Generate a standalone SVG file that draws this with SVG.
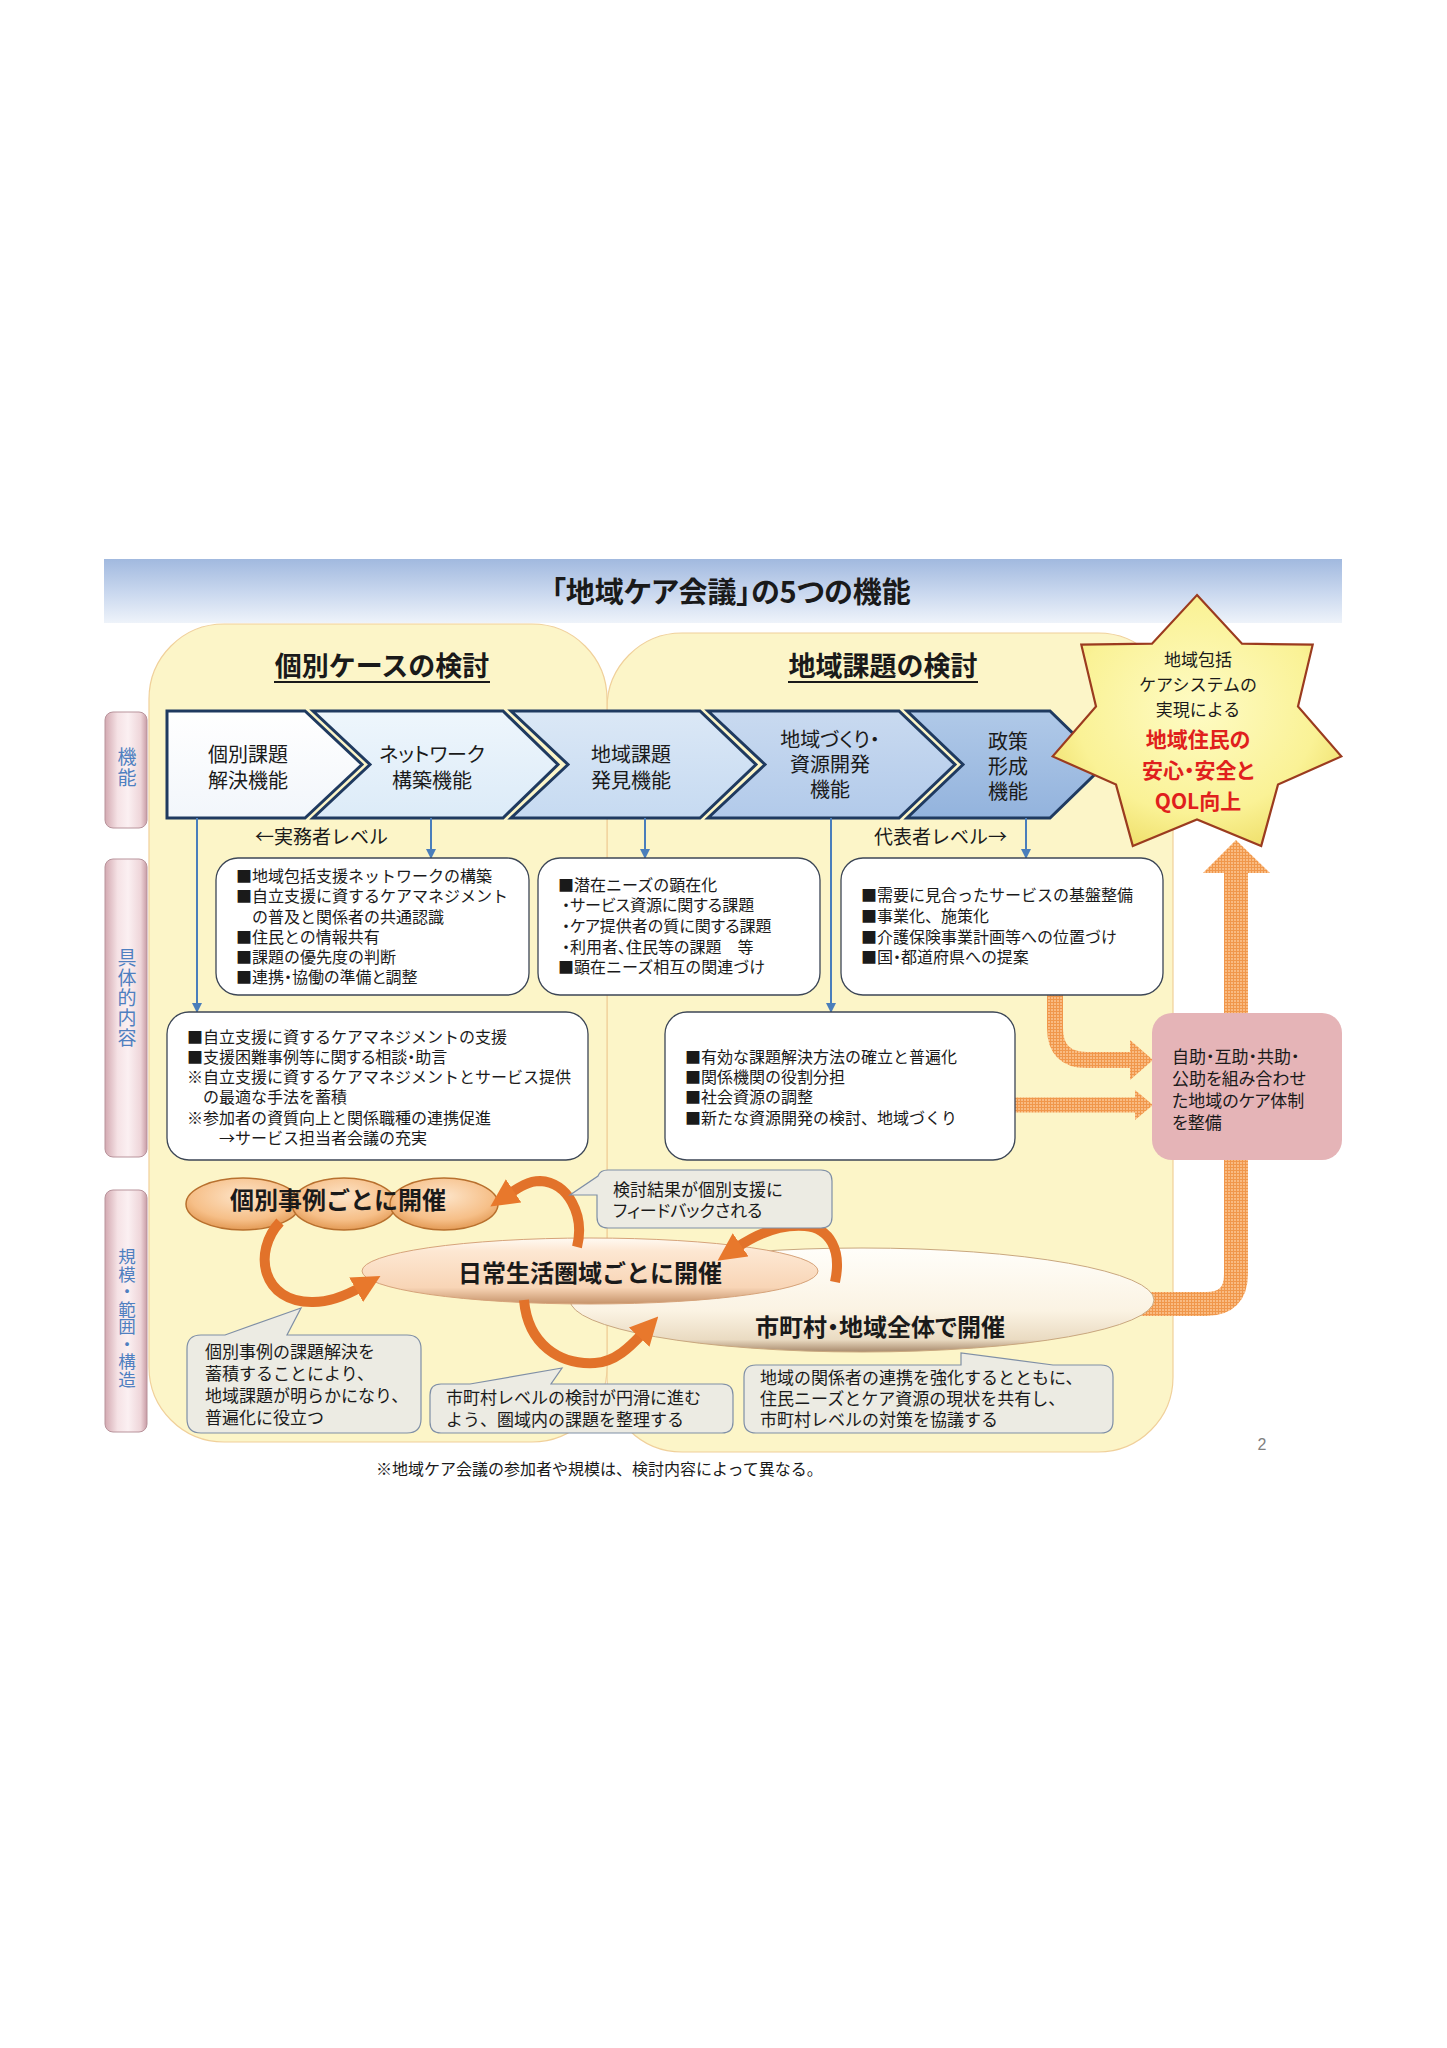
<svg xmlns="http://www.w3.org/2000/svg" width="1447" height="2048" viewBox="0 0 1447 2048">
<defs>
<style>
text{font-family:"Noto Sans CJK JP","Noto Sans CJK SC",sans-serif;fill:#1a1a1a}
.p{font-feature-settings:"palt"}
.t16{font-size:16px}
.t17{font-size:17px}
.t19{font-size:19px}
.t20{font-size:20px}
.b{font-weight:bold}
.c{text-anchor:middle}
.vt{fill:#4f7fc0;text-anchor:middle;writing-mode:vertical-rl;text-orientation:upright}
.sk{font-size:17px;text-anchor:middle}
.sr{font-size:21px;font-weight:bold;text-anchor:middle;fill:#e0201c;font-feature-settings:"palt"}
.box{fill:#ffffff;stroke:#3c4656;stroke-width:1.3}
.chev{stroke:#1f3a60;stroke-width:3;stroke-linejoin:miter}
.blue{stroke:#4a7ebb;stroke-width:2;fill:none}
.oarr{fill:none;stroke:#e2722a;stroke-width:10}
.call{fill:#ecebe3;stroke:#7f8fa6;stroke-width:1.2}
.panel{fill:#fcf5c8;stroke:#f0d09a;stroke-width:1.2}
</style>
<linearGradient id="gTitle" x1="0" y1="0" x2="0" y2="1">
<stop offset="0" stop-color="#a1b9df"/><stop offset="0.55" stop-color="#cbd9ef"/><stop offset="1" stop-color="#eef3fa"/>
</linearGradient>
<linearGradient id="gTab" x1="0" y1="0" x2="1" y2="0">
<stop offset="0" stop-color="#d3a9b1"/><stop offset="0.3" stop-color="#f5e2e5"/><stop offset="0.55" stop-color="#fbf0f2"/><stop offset="0.85" stop-color="#eed5d9"/><stop offset="1" stop-color="#c89ca5"/>
</linearGradient>
<linearGradient id="gC1" x1="0" y1="0" x2="0" y2="1"><stop offset="0" stop-color="#ffffff"/><stop offset="1" stop-color="#f2f6fb"/></linearGradient>
<linearGradient id="gC2" x1="0" y1="0" x2="0" y2="1"><stop offset="0" stop-color="#eef6fc"/><stop offset="1" stop-color="#dcebf8"/></linearGradient>
<linearGradient id="gC3" x1="0" y1="0" x2="0" y2="1"><stop offset="0" stop-color="#dbe8f6"/><stop offset="1" stop-color="#c6daf1"/></linearGradient>
<linearGradient id="gC4" x1="0" y1="0" x2="0" y2="1"><stop offset="0" stop-color="#c9daf0"/><stop offset="1" stop-color="#b2caea"/></linearGradient>
<linearGradient id="gC5" x1="0" y1="0" x2="0" y2="1"><stop offset="0" stop-color="#b0c9e8"/><stop offset="1" stop-color="#93b3dd"/></linearGradient>
<radialGradient id="gStar" cx="0.5" cy="0.45" r="0.6">
<stop offset="0" stop-color="#fefbc4"/><stop offset="0.7" stop-color="#faf296"/><stop offset="1" stop-color="#efdf6a"/>
</radialGradient>
<radialGradient id="gOr" cx="0.5" cy="0.35" r="0.65">
<stop offset="0" stop-color="#fde4c8"/><stop offset="0.7" stop-color="#f6bf88"/><stop offset="1" stop-color="#e39a55"/>
</radialGradient>
<linearGradient id="gNichi" x1="0" y1="0" x2="0" y2="1">
<stop offset="0" stop-color="#fffaf3"/><stop offset="0.2" stop-color="#fde7d2"/><stop offset="0.75" stop-color="#f8d5b6"/><stop offset="1" stop-color="#c6936a"/>
</linearGradient>
<linearGradient id="gShi" x1="0" y1="0" x2="0" y2="1">
<stop offset="0" stop-color="#fffefa"/><stop offset="0.6" stop-color="#fbf3e3"/><stop offset="0.88" stop-color="#eadbc2"/><stop offset="1" stop-color="#a88a6c"/>
</linearGradient>
<pattern id="hatch" width="3" height="3" patternUnits="userSpaceOnUse">
<rect width="3" height="3" fill="#f9bb82"/><path d="M0 0.5H3M0.5 0V3" stroke="#f0974b" stroke-width="1"/>
</pattern>
<marker id="ob" viewBox="0 0 20 20" refX="4" refY="10" markerWidth="28" markerHeight="28" markerUnits="userSpaceOnUse" orient="auto">
<path d="M0,0 L20,10 L0,20 Z" fill="#e8782c"/>
</marker>
<marker id="bb" viewBox="0 0 10 10" refX="9" refY="5" markerWidth="10" markerHeight="10" markerUnits="userSpaceOnUse" orient="auto">
<path d="M0,0 L10,5 L0,10 Z" fill="#4a7ebb"/>
</marker>
</defs>

<rect width="1447" height="2048" fill="#ffffff"/>

<!-- Title bar -->
<g id="title">
<rect x="104" y="559" width="1238" height="64" fill="url(#gTitle)"/>
<text x="731" y="603" class="c b p" style="font-size:29px">「地域ケア会議」の5つの機能</text>
</g>

<!-- Panels -->
<g id="panel-right">
<rect x="607" y="633" width="566" height="819" rx="75" class="panel"/>
<text x="883" y="676" class="c b" style="font-size:27px">地域課題の検討</text>
<line x1="788" y1="682" x2="978" y2="682" stroke="#1a1a1a" stroke-width="2"/>
</g>
<g id="panel-left">
<rect x="149" y="624" width="458" height="818" rx="75" class="panel"/>
<text x="382" y="676" class="c b" style="font-size:27px">個別ケースの検討</text>
<line x1="274" y1="682" x2="490" y2="682" stroke="#1a1a1a" stroke-width="2"/>
</g>

<!-- Side tabs -->
<g id="tab-kinou">
<rect x="105" y="712" width="42" height="116" rx="8" fill="url(#gTab)" stroke="#b8939b"/>
<text x="127" y="768" class="vt" style="font-size:19px;letter-spacing:2px">機能</text>
</g>
<g id="tab-naiyou">
<rect x="105" y="859" width="42" height="298" rx="8" fill="url(#gTab)" stroke="#b8939b"/>
<text x="127" y="998" class="vt" style="font-size:19px;letter-spacing:1px">具体的内容</text>
</g>
<g id="tab-kibo">
<rect x="105" y="1190" width="42" height="242" rx="8" fill="url(#gTab)" stroke="#b8939b"/>
<text x="127" y="1318" class="vt" style="font-size:17.5px">規模・範囲・構造</text>
</g>

<!-- Orange hatched arrows (connectors) -->
<g id="connectors-orange">
<path d="M1055 994 V1028 Q1055 1060 1087 1060 H1132" fill="none" stroke="url(#hatch)" stroke-width="16"/>
<polygon points="1130,1040 1153,1060 1130,1080" fill="url(#hatch)"/>
<path d="M1015 1105 H1135" fill="none" stroke="url(#hatch)" stroke-width="15"/>
<polygon points="1135,1090 1153,1105 1135,1120" fill="url(#hatch)"/>
<path d="M1140 1304 H1206 Q1236 1304 1236 1274 V872" fill="none" stroke="url(#hatch)" stroke-width="24"/>
<polygon points="1203,873 1236,840 1270,873" fill="url(#hatch)"/>
</g>

<!-- Chevrons -->
<g id="chev1">
<polygon class="chev" points="167,711 305,711 362,764.5 305,818 167,818" fill="url(#gC1)"/>
<text class="t20 c"><tspan x="248" y="762">個別課題</tspan><tspan x="248" y="788">解決機能</tspan></text>
</g>
<g id="chev2">
<polygon class="chev" points="313,711 503,711 558,764.5 503,818 313,818 370,764.5" fill="url(#gC2)"/>
<text class="t20 c p"><tspan x="432" y="762">ネットワーク</tspan><tspan x="432" y="788">構築機能</tspan></text>
</g>
<g id="chev3">
<polygon class="chev" points="511,711 700,711 756,764.5 700,818 511,818 568,764.5" fill="url(#gC3)"/>
<text class="t20 c"><tspan x="631" y="762">地域課題</tspan><tspan x="631" y="788">発見機能</tspan></text>
</g>
<g id="chev4">
<polygon class="chev" points="708,711 899,711 955,764.5 899,818 708,818 765,764.5" fill="url(#gC4)"/>
<text class="t20 c p"><tspan x="830" y="747">地域づくり・</tspan><tspan x="830" y="772">資源開発</tspan><tspan x="830" y="797">機能</tspan></text>
</g>
<g id="chev5">
<polygon class="chev" points="907,711 1050,711 1105,764.5 1050,818 907,818 963,764.5" fill="url(#gC5)"/>
<text class="t20 c"><tspan x="1008" y="749">政策</tspan><tspan x="1008" y="774">形成</tspan><tspan x="1008" y="799">機能</tspan></text>
</g>

<!-- Star -->
<g id="star">
<polygon points="1197,595 1242,643.7 1312.7,644.7 1298,706.4 1341.3,756.4 1278,784.6 1261.2,845.9 1197,819.4 1132.8,845.9 1116,784.6 1052.7,756.4 1096,706.4 1081.3,644.7 1152,643.7" fill="url(#gStar)" stroke="#9b3b1f" stroke-width="2.2" stroke-linejoin="miter"/>
<text x="1198" y="666" class="sk">地域包括</text>
<text x="1198" y="691" class="sk">ケアシステムの</text>
<text x="1198" y="716" class="sk">実現による</text>
<text x="1198" y="747" class="sr">地域住民の</text>
<text x="1198" y="778" class="sr">安心・安全と</text>
<text x="1198" y="809" class="sr">QOL向上</text>
</g>

<!-- Blue connectors -->
<g id="connectors-blue">
<line class="blue" x1="197" y1="818" x2="197" y2="1012" marker-end="url(#bb)"/>
<line class="blue" x1="431" y1="818" x2="431" y2="858" marker-end="url(#bb)"/>
<line class="blue" x1="645" y1="818" x2="645" y2="858" marker-end="url(#bb)"/>
<line class="blue" x1="831" y1="818" x2="831" y2="1012" marker-end="url(#bb)"/>
<line class="blue" x1="1026" y1="818" x2="1026" y2="858" marker-end="url(#bb)"/>
</g>

<g id="level-labels">
<text x="255" y="844" class="t19">←実務者レベル</text>
<text x="1007" y="844" class="t19" text-anchor="end">代表者レベル→</text>
</g>

<!-- Content boxes -->
<g id="box-network">
<rect x="216" y="858" width="313" height="137" rx="22" class="box"/>
<text class="t16"><tspan x="236" y="882">■地域包括支援ネットワークの構築</tspan><tspan x="236" y="902">■自立支援に資するケアマネジメント</tspan><tspan x="236" y="923">　の普及と関係者の共通認識</tspan><tspan x="236" y="943">■住民との情報共有</tspan><tspan x="236" y="963">■課題の優先度の判断</tspan><tspan x="236" y="983" class="p">■連携・協働の準備と調整</tspan></text>
</g>
<g id="box-discover">
<rect x="538" y="858" width="282" height="137" rx="22" class="box"/>
<text class="t16"><tspan x="558" y="891">■潜在ニーズの顕在化</tspan><tspan x="562" y="911" class="p">・サービス資源に関する課題</tspan><tspan x="562" y="932" class="p">・ケア提供者の質に関する課題</tspan><tspan x="562" y="953" class="p">・利用者、住民等の課題　等</tspan><tspan x="558" y="973">■顕在ニーズ相互の関連づけ</tspan></text>
</g>
<g id="box-policy">
<rect x="841" y="858" width="322" height="137" rx="22" class="box"/>
<text class="t16"><tspan x="861" y="901">■需要に見合ったサービスの基盤整備</tspan><tspan x="861" y="922">■事業化、施策化</tspan><tspan x="861" y="943">■介護保険事業計画等への位置づけ</tspan><tspan x="861" y="963" class="p">■国・都道府県への提案</tspan></text>
</g>
<g id="box-individual">
<rect x="167" y="1012" width="421" height="148" rx="22" class="box"/>
<text class="t16"><tspan x="187" y="1043">■自立支援に資するケアマネジメントの支援</tspan><tspan x="187" y="1063" class="p">■支援困難事例等に関する相談・助言</tspan><tspan x="187" y="1083">※自立支援に資するケアマネジメントとサービス提供</tspan><tspan x="187" y="1103">　の最適な手法を蓄積</tspan><tspan x="187" y="1124">※参加者の資質向上と関係職種の連携促進</tspan><tspan x="187" y="1144">　　→サービス担当者会議の充実</tspan></text>
</g>
<g id="box-resource">
<rect x="665" y="1012" width="350" height="148" rx="22" class="box"/>
<text class="t16"><tspan x="685" y="1063">■有効な課題解決方法の確立と普遍化</tspan><tspan x="685" y="1083">■関係機関の役割分担</tspan><tspan x="685" y="1103">■社会資源の調整</tspan><tspan x="685" y="1124">■新たな資源開発の検討、地域づくり</tspan></text>
</g>
<g id="box-care-system">
<rect x="1152" y="1013" width="190" height="147" rx="20" fill="#e5b4b7"/>
<text class="t17 p"><tspan x="1172" y="1063">自助・互助・共助・</tspan><tspan x="1172" y="1085">公助を組み合わせ</tspan><tspan x="1172" y="1107">た地域のケア体制</tspan><tspan x="1172" y="1129">を整備</tspan></text>
</g>

<!-- Scale ellipses -->
<g id="ellipse-shichoson">
<ellipse cx="862" cy="1300" rx="292" ry="52" fill="url(#gShi)" stroke="#c9a77e" stroke-width="1"/>
<text x="880" y="1336" class="c b p" style="font-size:24px">市町村・地域全体で開催</text>
</g>
<g id="ellipse-nichijo">
<ellipse cx="590" cy="1271" rx="228" ry="33" fill="url(#gNichi)" stroke="#d6a37a" stroke-width="1"/>
<text x="590" y="1282" class="c b" style="font-size:24px">日常生活圏域ごとに開催</text>
</g>
<g id="ellipse-kobetsu">
<ellipse cx="243" cy="1204" rx="57" ry="26" fill="url(#gOr)" stroke="#b8702e" stroke-width="1.5"/>
<ellipse cx="344" cy="1204" rx="52" ry="26" fill="url(#gOr)" stroke="#b8702e" stroke-width="1.5"/>
<ellipse cx="444" cy="1204" rx="54" ry="26" fill="url(#gOr)" stroke="#b8702e" stroke-width="1.5"/>
<text x="338" y="1209" class="c b" style="font-size:24px">個別事例ごとに開催</text>
</g>

<!-- Orange curved arrows -->
<g id="connectors-cycle">
<path class="oarr" d="M280 1222 C252 1252 262 1303 313 1302 C330 1302 347 1295 361 1287" marker-end="url(#ob)"/>
<path class="oarr" d="M577 1247 C585 1215 568 1182 540 1181 C528 1181 518 1188 509 1194" marker-end="url(#ob)"/>
<path class="oarr" d="M524 1300 C528 1345 560 1365 595 1363 C615 1362 630 1347 643 1333" marker-end="url(#ob)"/>
<path class="oarr" d="M835 1282 C842 1250 830 1228 805 1226 C780 1224 755 1235 736 1248" marker-end="url(#ob)"/>
</g>

<!-- Callouts -->
<g id="callout-feedback">
<path class="call" d="M608 1170 H821 Q832 1170 832 1181 V1217 Q832 1228 821 1228 H608 Q597 1228 597 1217 V1195 L570 1195 L598 1176 Q600 1170 608 1170 Z"/>
<text class="t17"><tspan x="613" y="1196">検討結果が個別支援に</tspan><tspan x="613" y="1217" class="p">フィードバックされる</tspan></text>
</g>
<g id="callout-accumulate">
<path class="call" d="M201 1335 H225 L301 1308 L287 1335 H407 Q421 1335 421 1349 V1419 Q421 1433 407 1433 H201 Q187 1433 187 1419 V1349 Q187 1335 201 1335 Z"/>
<text class="t17"><tspan x="205" y="1358">個別事例の課題解決を</tspan><tspan x="205" y="1380">蓄積することにより、</tspan><tspan x="205" y="1402">地域課題が明らかになり、</tspan><tspan x="205" y="1424">普遍化に役立つ</tspan></text>
</g>
<g id="callout-organize">
<path class="call" d="M441 1384 H470 L562 1368 L551 1384 H722 Q733 1384 733 1395 V1422 Q733 1433 722 1433 H441 Q430 1433 430 1422 V1395 Q430 1384 441 1384 Z"/>
<text class="t17"><tspan x="446" y="1404">市町村レベルの検討が円滑に進む</tspan><tspan x="446" y="1426">よう、圏域内の課題を整理する</tspan></text>
</g>
<g id="callout-municipal">
<path class="call" d="M756 1365 H961 L961 1353 L1053 1365 H1101 Q1113 1365 1113 1377 V1421 Q1113 1433 1101 1433 H756 Q744 1433 744 1421 V1377 Q744 1365 756 1365 Z"/>
<text class="t17"><tspan x="760" y="1384">地域の関係者の連携を強化するとともに、</tspan><tspan x="760" y="1405">住民ニーズとケア資源の現状を共有し、</tspan><tspan x="760" y="1426">市町村レベルの対策を協議する</tspan></text>
</g>

<g id="footer">
<text x="1262" y="1450" style="font-family:'Liberation Sans',sans-serif;font-size:16px;fill:#808080" class="c">2</text>
<text x="376" y="1475" class="t16">※地域ケア会議の参加者や規模は、検討内容によって異なる。</text>
</g>
</svg>
